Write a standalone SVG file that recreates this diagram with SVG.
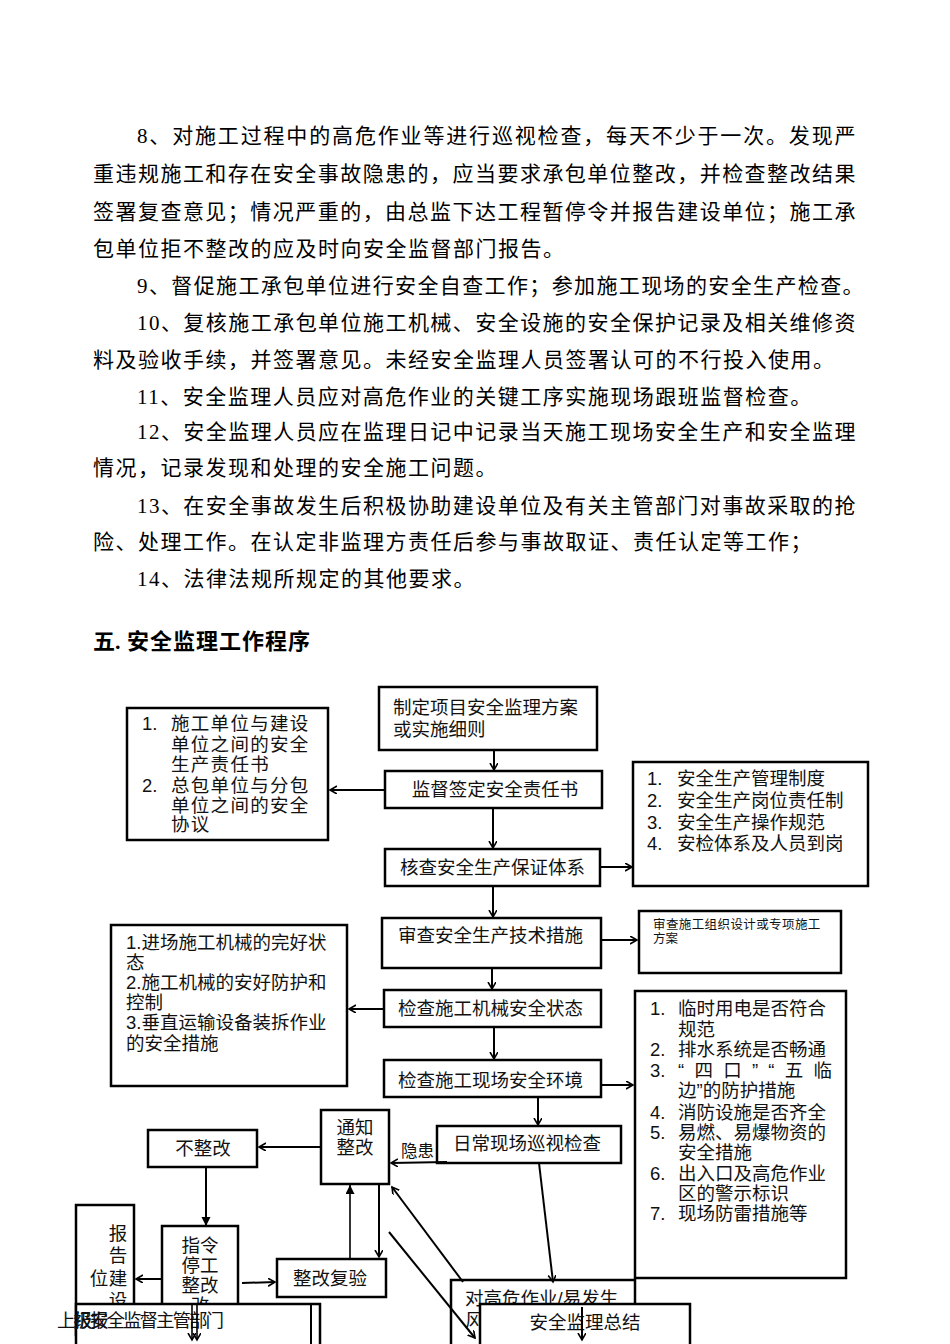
<svg xmlns="http://www.w3.org/2000/svg" width="950" height="1344" viewBox="0 0 950 1344">
<defs>
<style>
.body{font-family:"Liberation Serif","Noto Sans CJK SC",serif;font-size:21px;fill:#000;letter-spacing:1.5px}
.head{font-family:"Liberation Serif","Noto Sans CJK SC",serif;font-size:22px;font-weight:bold;fill:#000}
.t{font-family:"Liberation Sans","Noto Sans CJK SC",sans-serif;font-size:18.5px;fill:#111}
.ts{font-family:"Liberation Sans","Noto Sans CJK SC",sans-serif;font-size:12.5px;fill:#111}
.tl{font-family:"Liberation Sans","Noto Sans CJK SC",sans-serif;font-size:16.5px;fill:#111}
.box{fill:#fff;stroke:#000;stroke-width:2.5}
.ln{stroke:#000;stroke-width:2;fill:none}
.lt{stroke:#000;stroke-width:1.6;fill:none}
</style>
<marker id="ch" markerUnits="userSpaceOnUse" markerWidth="10" markerHeight="10" refX="7" refY="4" orient="auto">
<path d="M0,0 L7,4 L0,8" fill="none" stroke="#000" stroke-width="1.6"/>
</marker>
<marker id="fl" markerUnits="userSpaceOnUse" markerWidth="10" markerHeight="10" refX="9" refY="4.5" orient="auto">
<path d="M0,0 L9,4.5 L0,9 z" fill="#000"/>
</marker>
</defs>
<rect width="950" height="1344" fill="#fff"/>

<g id="body-text">
<text class="body" x="137" y="143" textLength="720" lengthAdjust="spacing">8、对施工过程中的高危作业等进行巡视检查，每天不少于一次。发现严</text>
<text class="body" x="93" y="181" textLength="764" lengthAdjust="spacing">重违规施工和存在安全事故隐患的，应当要求承包单位整改，并检查整改结果</text>
<text class="body" x="93" y="219" textLength="764" lengthAdjust="spacing">签署复查意见；情况严重的，由总监下达工程暂停令并报告建设单位；施工承</text>
<text class="body" x="93" y="256">包单位拒不整改的应及时向安全监督部门报告。</text>
<text class="body" x="137" y="293" textLength="728" lengthAdjust="spacing">9、督促施工承包单位进行安全自查工作；参加施工现场的安全生产检查。</text>
<text class="body" x="137" y="330" textLength="720" lengthAdjust="spacing">10、复核施工承包单位施工机械、安全设施的安全保护记录及相关维修资</text>
<text class="body" x="93" y="367">料及验收手续，并签署意见。未经安全监理人员签署认可的不行投入使用。</text>
<text class="body" x="137" y="404">11、安全监理人员应对高危作业的关键工序实施现场跟班监督检查。</text>
<text class="body" x="137" y="439" textLength="720" lengthAdjust="spacing">12、安全监理人员应在监理日记中记录当天施工现场安全生产和安全监理</text>
<text class="body" x="93" y="475">情况，记录发现和处理的安全施工问题。</text>
<text class="body" x="137" y="513" textLength="720" lengthAdjust="spacing">13、在安全事故发生后积极协助建设单位及有关主管部门对事故采取的抢</text>
<text class="body" x="93" y="549">险、处理工作。在认定非监理方责任后参与事故取证、责任认定等工作；</text>
<text class="body" x="137" y="586">14、法律法规所规定的其他要求。</text>
<text class="head" x="93" y="649">五.</text>
<text class="head" x="127" y="649" letter-spacing="1">安全监理工作程序</text>
</g>

<g id="n-plan">
<rect class="box" x="379" y="687" width="218" height="63"/>
<text class="t" x="393" y="714">制定项目安全监理方案</text>
<text class="t" x="393" y="736">或实施细则</text>
</g>
<g id="n-sign">
<rect class="box" x="385" y="771" width="217" height="37"/>
<text class="t" x="495" y="796" text-anchor="middle">监督签定安全责任书</text>
</g>
<g id="n-check-system">
<rect class="box" x="385" y="849" width="215" height="37"/>
<text class="t" x="400" y="874">核查安全生产保证体系</text>
</g>
<g id="n-tech">
<rect class="box" x="382" y="918" width="219" height="50"/>
<text class="t" x="398" y="942">审查安全生产技术措施</text>
</g>
<g id="n-machine">
<rect class="box" x="384" y="990" width="217" height="37"/>
<text class="t" x="398" y="1015">检查施工机械安全状态</text>
</g>
<g id="n-site">
<rect class="box" x="384" y="1060" width="217" height="37"/>
<text class="t" x="398" y="1087">检查施工现场安全环境</text>
</g>
<g id="n-daily">
<rect class="box" x="437" y="1126" width="184" height="37"/>
<text class="t" x="453" y="1150">日常现场巡视检查</text>
</g>
<g id="n-notice">
<rect class="box" x="321" y="1110" width="68" height="74"/>
<text class="t" x="355" y="1134" text-anchor="middle">通知</text>
<text class="t" x="355" y="1154" text-anchor="middle">整改</text>
</g>
<g id="n-norect">
<rect class="box" x="148" y="1130" width="109" height="37"/>
<text class="t" x="203" y="1155" text-anchor="middle">不整改</text>
</g>
<g id="n-recheck">
<rect class="box" x="277" y="1259" width="109" height="38"/>
<text class="t" x="293" y="1285">整改复验</text>
</g>

<g id="n-left1">
<rect class="box" x="127" y="708" width="201" height="132"/>
<text class="t" x="142" y="730">1.</text>
<text class="t" x="171" y="730" letter-spacing="1.3">施工单位与建设</text>
<text class="t" x="171" y="751" letter-spacing="1.3">单位之间的安全</text>
<text class="t" x="171" y="771" letter-spacing="1.3">生产责任书</text>
<text class="t" x="142" y="792">2.</text>
<text class="t" x="171" y="792" letter-spacing="1.3">总包单位与分包</text>
<text class="t" x="171" y="812" letter-spacing="1.3">单位之间的安全</text>
<text class="t" x="171" y="831" letter-spacing="1.3">协议</text>
</g>

<g id="n-right1">
<rect class="box" x="633" y="762" width="235" height="124"/>
<text class="t" x="647" y="785">1.</text><text class="t" x="677" y="785">安全生产管理制度</text>
<text class="t" x="647" y="807">2.</text><text class="t" x="677" y="807">安全生产岗位责任制</text>
<text class="t" x="647" y="829">3.</text><text class="t" x="677" y="829">安全生产操作规范</text>
<text class="t" x="647" y="850">4.</text><text class="t" x="677" y="850">安检体系及人员到岗</text>
</g>

<g id="n-right-plan">
<rect class="box" x="639" y="911" width="202" height="62"/>
<text class="ts" x="653" y="929" letter-spacing="0.4">审查施工组织设计或专项施工</text>
<text class="ts" x="653" y="943">方案</text>
</g>

<g id="n-left2">
<rect class="box" x="111" y="925" width="236" height="161"/>
<text class="t" x="126" y="949">1.进场施工机械的完好状</text>
<text class="t" x="126" y="969">态</text>
<text class="t" x="126" y="989">2.施工机械的安好防护和</text>
<text class="t" x="126" y="1009">控制</text>
<text class="t" x="126" y="1029">3.垂直运输设备装拆作业</text>
<text class="t" x="126" y="1050">的安全措施</text>
</g>

<g id="n-right2">
<rect class="box" x="635" y="991" width="211" height="287"/>
<text class="t" x="650" y="1015">1.</text><text class="t" x="678" y="1015">临时用电是否符合</text>
<text class="t" x="678" y="1036">规范</text>
<text class="t" x="650" y="1056">2.</text><text class="t" x="678" y="1056">排水系统是否畅通</text>
<text class="t" x="650" y="1077">3.</text><text class="t" x="678" y="1077" textLength="154" lengthAdjust="spacing">“四口”“五临</text>
<text class="t" x="678" y="1097">边”的防护措施</text>
<text class="t" x="650" y="1119">4.</text><text class="t" x="678" y="1119">消防设施是否齐全</text>
<text class="t" x="650" y="1139">5.</text><text class="t" x="678" y="1139">易燃、易爆物资的</text>
<text class="t" x="678" y="1159">安全措施</text>
<text class="t" x="650" y="1180">6.</text><text class="t" x="678" y="1180">出入口及高危作业</text>
<text class="t" x="678" y="1200">区的警示标识</text>
<text class="t" x="650" y="1220">7.</text><text class="t" x="678" y="1220">现场防雷措施等</text>
</g>

<g id="n-stop">
<rect class="box" x="162" y="1226" width="76" height="110"/>
<text class="t" x="200" y="1252" text-anchor="middle">指令</text>
<text class="t" x="200" y="1272" text-anchor="middle">停工</text>
<text class="t" x="200" y="1292" text-anchor="middle">整改</text>
<text class="t" x="200" y="1312" text-anchor="middle">改</text>
</g>
<g id="n-report">
<rect class="box" x="76" y="1205" width="58" height="130"/>
<text class="t" x="118" y="1240" text-anchor="middle">报</text>
<text class="t" x="118" y="1262" text-anchor="middle">告</text>
<text class="t" x="99" y="1285" text-anchor="middle">位</text>
<text class="t" x="118" y="1285" text-anchor="middle">建</text>
<text class="t" x="118" y="1307" text-anchor="middle">设</text>
</g>
<g id="n-superior">
<rect class="box" x="76" y="1304" width="244" height="45"/>
<line class="ln" x1="311" y1="1304" x2="311" y2="1344"/>
<text class="t" x="57" y="1327" letter-spacing="-2">上报安全监督主管部门</text>
<text class="t" x="73.5" y="1327" letter-spacing="-2">级报</text>
</g>

<g id="n-highrisk">
<rect class="box" x="451" y="1280" width="184" height="70"/>
<text class="t" x="465" y="1305">对高危作业/易发生</text>
<text class="t" x="465" y="1327">风</text>
</g>
<g id="n-summary">
<rect class="box" x="480" y="1304" width="210" height="45"/>
<text class="t" x="585" y="1329" text-anchor="middle">安全监理总结</text>
</g>

<g id="connectors">
<line class="ln" x1="494" y1="750" x2="494" y2="770" marker-end="url(#ch)"/>
<line class="ln" x1="385" y1="790" x2="330" y2="790" marker-end="url(#ch)"/>
<line class="ln" x1="493" y1="808" x2="493" y2="848" marker-end="url(#ch)"/>
<line class="ln" x1="600" y1="867" x2="632" y2="867" marker-end="url(#ch)"/>
<line class="ln" x1="493" y1="886" x2="493" y2="917" marker-end="url(#ch)"/>
<line class="ln" x1="601" y1="940" x2="637" y2="940" marker-end="url(#ch)"/>
<line class="ln" x1="492" y1="968" x2="492" y2="989" marker-end="url(#ch)"/>
<line class="ln" x1="384" y1="1009" x2="349" y2="1009" marker-end="url(#ch)"/>
<line class="ln" x1="494" y1="1027" x2="494" y2="1059" marker-end="url(#ch)"/>
<line class="ln" x1="601" y1="1085" x2="633" y2="1085" marker-end="url(#ch)"/>
<line class="ln" x1="538" y1="1097" x2="538" y2="1125" marker-end="url(#ch)"/>
<line class="ln" x1="447" y1="1162" x2="391" y2="1163" marker-end="url(#ch)"/>
<text class="tl" x="401" y="1157">隐患</text>
<line class="ln" x1="321" y1="1147" x2="259" y2="1147" marker-end="url(#ch)"/>
<line class="ln" x1="206" y1="1167" x2="206" y2="1226" marker-end="url(#fl)"/>
<line class="ln" x1="162" y1="1279" x2="136" y2="1279" marker-end="url(#ch)"/>
<line class="ln" x1="242" y1="1283" x2="275" y2="1282" marker-end="url(#ch)"/>
<line class="lt" x1="350" y1="1259" x2="350" y2="1185" marker-end="url(#fl)"/>
<line class="ln" x1="379" y1="1184" x2="379" y2="1257" marker-end="url(#ch)"/>
<line class="ln" x1="539" y1="1163" x2="553" y2="1282" marker-end="url(#ch)"/>
<line class="ln" x1="463" y1="1282" x2="392" y2="1187" marker-end="url(#ch)"/>
<line class="ln" x1="389" y1="1232" x2="475" y2="1338" marker-end="url(#ch)"/>
<line class="lt" x1="192" y1="1305" x2="192" y2="1340" marker-end="url(#ch)"/>
<line class="lt" x1="197" y1="1305" x2="197" y2="1340" marker-end="url(#ch)"/>
<line class="ln" x1="582" y1="1307" x2="582" y2="1340" marker-end="url(#ch)"/>
</g>
</svg>
